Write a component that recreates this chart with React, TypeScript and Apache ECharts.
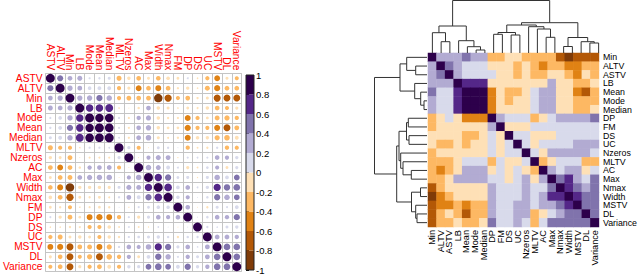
import React, { useEffect, useRef } from "react";
import * as echarts from "echarts";

// Variable order used by the corrplot (left panel)
const corrVars = ["ASTV", "ALTV", "Min", "LB", "Mode", "Mean", "Median", "MLTV", "Nzeros", "AC", "Max", "Width", "Nmax", "FM", "DP", "DS", "UC", "MSTV", "DL", "Variance"];
// Variable order used by the clustered heatmap (right panel)
const heatVars = ["Min", "ALTV", "ASTV", "LB", "Mean", "Mode", "Median", "DP", "FM", "DS", "UC", "Nzeros", "MLTV", "AC", "Max", "Nmax", "Width", "MSTV", "DL", "Variance"];

// Lower triangle of the correlation matrix, rows/cols in corrVars order
const corrLower: number[][] = [
  [],
  [0.46],
  [0.28, 0.36],
  [0.31, 0.29, 0.36],
  [0.06, 0.17, 0.37, 0.71],
  [0.07, 0.19, 0.50, 0.72, 0.89],
  [0.12, 0.19, 0.38, 0.79, 0.93, 0.95],
  [-0.32, -0.22, -0.22, -0.03, 0.06, 0.06, 0.04],
  [-0.15, -0.12, -0.30, -0.01, -0.06, -0.05, -0.06, 0.13],
  [-0.28, -0.43, -0.28, -0.08, 0.24, 0.27, 0.29, -0.21, -0.01],
  [-0.11, -0.28, -0.30, 0.28, 0.34, 0.37, 0.39, -0.01, 0.22, 0.39],
  [-0.26, -0.45, -0.90, -0.15, -0.15, -0.15, -0.12, 0.11, 0.32, 0.30, 0.69],
  [-0.17, -0.28, -0.67, -0.11, -0.07, -0.10, -0.05, 0.07, 0.29, 0.19, 0.50, 0.75],
  [-0.10, -0.07, -0.21, -0.03, -0.06, -0.09, -0.07, 0.01, -0.02, 0.05, 0.10, 0.17, 0.16],
  [0.05, -0.14, -0.28, -0.10, -0.44, -0.49, -0.44, -0.23, 0.06, -0.13, 0.12, 0.27, 0.22, 0.27],
  [-0.03, -0.03, -0.07, -0.05, -0.22, -0.22, -0.16, -0.04, 0.04, -0.04, -0.02, 0.04, 0.01, -0.01, 0.01],
  [-0.23, -0.31, -0.11, -0.15, -0.10, -0.21, -0.14, -0.07, 0.06, 0.09, 0.12, 0.14, 0.08, -0.07, 0.08, 0.07],
  [-0.43, -0.47, -0.62, -0.28, -0.31, -0.45, -0.34, 0.07, 0.27, 0.21, 0.38, 0.66, 0.50, 0.12, 0.27, 0.03, 0.29],
  [-0.12, -0.27, -0.61, -0.21, -0.35, -0.61, -0.39, -0.24, 0.23, -0.11, 0.18, 0.52, 0.38, 0.05, 0.24, 0.11, 0.29, 0.56],
  [-0.21, -0.28, -0.61, -0.13, -0.23, -0.29, -0.19, -0.22, 0.15, 0.13, 0.42, 0.56, 0.42, 0.18, 0.50, 0.14, 0.24, 0.56, 0.56],
];

// Colour bands (PuOr, 10 classes) and their edges
const bandColors = ["#7f3b08", "#b35806", "#e08214", "#fdb863", "#fee0b6", "#d8daeb", "#b2abd2", "#8073ac", "#542788", "#2d004b"];
const bandEdges = [-1, -0.8, -0.6, -0.4, -0.2, 0, 0.2, 0.4, 0.6, 0.8, 1];

// Dendrogram merges: [left, right, height]; "#k" = k-th merge
const dendroMerges: [string, string, number][] = [
  ["Mode", "Median", 3],      // #0
  ["Mean", "#0", 6.3],        // #1
  ["LB", "#1", 12.3],         // #2
  ["ALTV", "ASTV", 11.3],     // #3
  ["Min", "#3", 20.3],        // #4
  ["#4", "#2", 27],           // #5
  ["DP", "FM", 18.7],         // #6
  ["DS", "UC", 18],           // #7
  ["#6", "#7", 20.5],         // #8
  ["AC", "Max", 15.7],        // #9
  ["MLTV", "#9", 24],         // #10
  ["Nzeros", "#10", 26.3],    // #11
  ["#8", "#11", 28],          // #12
  ["Nmax", "Width", 6.5],     // #13
  ["DL", "Variance", 10],     // #14
  ["MSTV", "#14", 11.3],      // #15
  ["#13", "#15", 15.5],       // #16
  ["#12", "#16", 30.3],       // #17
  ["#5", "#17", 52.5],        // #18
];

const FONT = "Liberation Sans, Arial, Helvetica, sans-serif";
const CORR_CELL = 9.9;

function corrValue(a: string, b: string): number {
  const i = corrVars.indexOf(a);
  const j = corrVars.indexOf(b);
  if (i === j) return 1;
  return i > j ? corrLower[i][j] : corrLower[j][i];
}

function layoutDendro(merges: [string, string, number][], leaves: string[]) {
  const pos: number[] = [];
  const hts: number[] = [];
  const p = (r: string) => (r.startsWith("#") ? pos[+r.slice(1)] : leaves.indexOf(r));
  const h = (r: string) => (r.startsWith("#") ? hts[+r.slice(1)] : 0);
  return merges.map((m, k) => {
    const link = { a: p(m[0]), ah: h(m[0]), b: p(m[1]), bh: h(m[1]), h: m[2] };
    pos[k] = (link.a + link.b) / 2;
    hts[k] = m[2];
    return link;
  });
}

export default function App() {
  const ref = useRef<HTMLDivElement>(null);
  useEffect(() => {
    const chart = echarts.init(ref.current!, null, { renderer: "svg" });

    const corrData: number[][] = [];
    corrVars.forEach((rv, i) =>
      corrVars.forEach((cv, j) => corrData.push([j, i, corrValue(rv, cv)]))
    );
    const heatData: number[][] = [];
    heatVars.forEach((rv, i) =>
      heatVars.forEach((cv, j) => heatData.push([j, i, corrValue(rv, cv)]))
    );
    const links = layoutDendro(dendroMerges, heatVars);
    const pieces = bandColors.map((c, i) => ({ min: bandEdges[i], max: bandEdges[i + 1], color: c }));

    const lineStyle = { stroke: "#333", lineWidth: 1, fill: "none" };

    const option: any = {
      animation: false,
      backgroundColor: "#fff",
      textStyle: { fontFamily: FONT },
      visualMap: {
        type: "piecewise",
        show: false,
        dimension: 2,
        seriesIndex: [0, 1],
        pieces,
      },
      grid: [
        { left: 44.5, top: 73.3, width: 197.2, height: 198.4 },
        { left: 246, top: 75, width: 8, height: 197 },
        { left: 428, top: 53, width: 175, height: 174 },
        { left: 428, top: 0, width: 175, height: 53 },
        { left: 374, top: 53, width: 53, height: 174 },
      ],
      xAxis: [
        {
          type: "category", gridIndex: 0, data: corrVars, position: "top",
          axisLine: { show: false }, axisTick: { show: false },
          axisLabel: { rotate: 90, interval: 0, color: "#ff0000", fontSize: 10.2, margin: 3, fontFamily: FONT },
          splitLine: { show: true, interval: 0, lineStyle: { color: "#c4c4c4", width: 1 } },
        },
        { type: "value", gridIndex: 1, min: 0, max: 1, show: false },
        {
          type: "category", gridIndex: 2, data: heatVars, position: "bottom",
          axisLine: { show: false }, axisTick: { show: false }, splitLine: { show: false },
          axisLabel: { rotate: 90, interval: 0, color: "#000", fontSize: 9.2, margin: 3, fontFamily: FONT },
        },
        { type: "value", gridIndex: 3, min: -0.5, max: 19.5, show: false },
        { type: "value", gridIndex: 4, min: 0, max: 53, inverse: true, show: false },
      ],
      yAxis: [
        {
          type: "category", gridIndex: 0, data: corrVars, inverse: true,
          axisLine: { show: false }, axisTick: { show: false },
          axisLabel: { interval: 0, color: "#ff0000", fontSize: 10.2, margin: 3, lineHeight: 10, fontFamily: FONT },
          splitLine: { show: true, interval: 0, lineStyle: { color: "#c4c4c4", width: 1 } },
        },
        {
          type: "value", gridIndex: 1, min: -1, max: 1, interval: 0.2, position: "right",
          axisLine: { show: false },
          axisTick: { show: true, length: 3, lineStyle: { color: "#000" } },
          splitLine: { show: false },
          axisLabel: { color: "#000", fontSize: 9.5, margin: 2, fontFamily: FONT,
            formatter: (v: number) => String(Math.round(v * 10) / 10) },
        },
        {
          type: "category", gridIndex: 2, data: heatVars, inverse: true, position: "right",
          axisLine: { show: false }, axisTick: { show: false }, splitLine: { show: false },
          axisLabel: { interval: 0, color: "#000", fontSize: 8.8, lineHeight: 8.6, margin: 4, fontFamily: FONT },
        },
        { type: "value", gridIndex: 3, min: 0, max: 53, show: false },
        { type: "value", gridIndex: 4, min: -0.5, max: 19.5, inverse: true, show: false },
      ],
      series: [
        {
          type: "scatter", xAxisIndex: 0, yAxisIndex: 0, data: corrData,
          symbol: "circle",
          symbolSize: (val: number[]) => CORR_CELL * 0.9 * Math.sqrt(Math.abs(val[2])),
          itemStyle: { opacity: 1 },
          z: 5,
        },
        {
          type: "heatmap", xAxisIndex: 2, yAxisIndex: 2, data: heatData,
          itemStyle: { borderWidth: 0 },
        },
        {
          type: "custom", xAxisIndex: 1, yAxisIndex: 1,
          data: bandColors.map((c, i) => [0, bandEdges[i], bandEdges[i + 1], i]).concat([[0, -1, 1, -1]]),
          renderItem: (params: any, api: any) => {
            const idx = api.value(3);
            const p1 = api.coord([0, api.value(2)]);
            const p2 = api.coord([1, api.value(1)]);
            const shape = { x: p1[0], y: p1[1], width: p2[0] - p1[0], height: p2[1] - p1[1] };
            if (idx < 0) {
              return { type: "rect", shape, style: { fill: "none", stroke: "#222", lineWidth: 1 }, z2: 10 };
            }
            return { type: "rect", shape, style: { fill: bandColors[idx] } };
          },
        },
        {
          type: "custom", xAxisIndex: 3, yAxisIndex: 3,
          data: links.map((l, k) => [(l.a + l.b) / 2, l.h, k]),
          renderItem: (params: any, api: any) => {
            const l = links[api.value(2)];
            const pts = [
              api.coord([l.a, l.ah]), api.coord([l.a, l.h]),
              api.coord([l.b, l.h]), api.coord([l.b, l.bh]),
            ];
            return { type: "polyline", shape: { points: pts }, style: lineStyle };
          },
        },
        {
          type: "custom", xAxisIndex: 4, yAxisIndex: 4,
          data: links.map((l, k) => [l.h, (l.a + l.b) / 2, k]),
          renderItem: (params: any, api: any) => {
            const l = links[api.value(2)];
            const pts = [
              api.coord([l.ah, l.a]), api.coord([l.h, l.a]),
              api.coord([l.h, l.b]), api.coord([l.bh, l.b]),
            ];
            return { type: "polyline", shape: { points: pts }, style: lineStyle };
          },
        },
      ],
    };

    chart.setOption(option);
    return () => chart.dispose();
  }, []);

  return (
    <div
      ref={ref}
      style={{ position: "fixed", left: 0, top: 0, width: 640, height: 275, background: "#fff" }}
    />
  );
}
